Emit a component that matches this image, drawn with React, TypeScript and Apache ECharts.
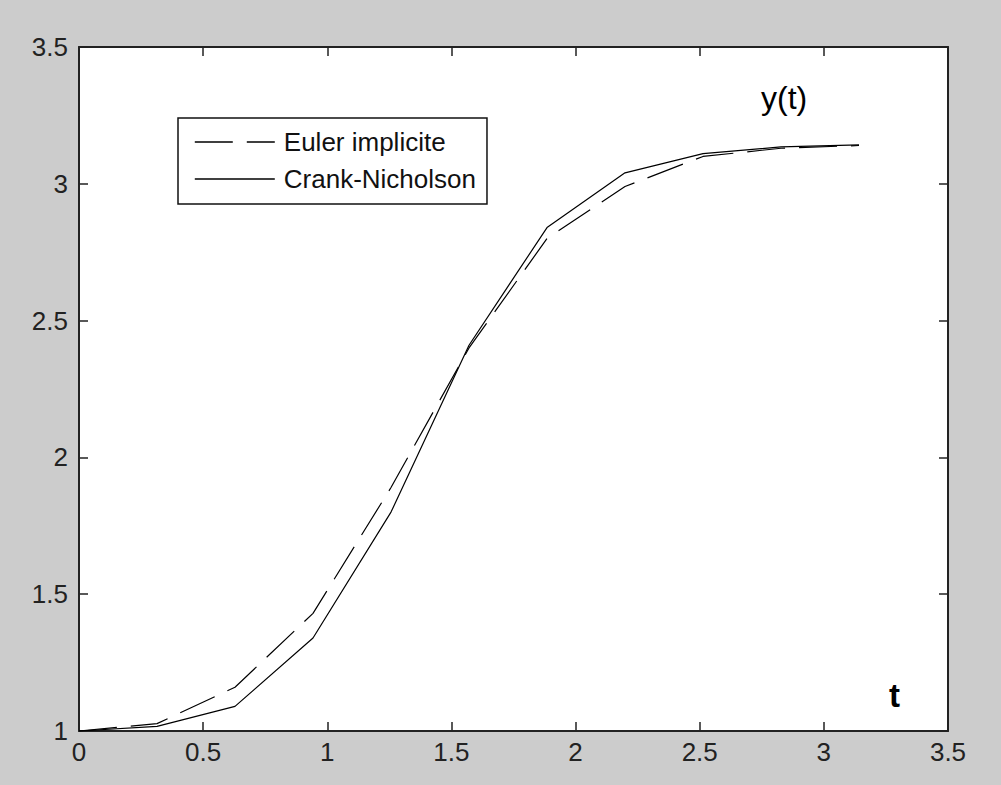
import React, { useEffect, useRef } from "react";
import * as echarts from "echarts";

const tValues = [0, 0.3142, 0.6283, 0.9425, 1.2566, 1.5708, 1.885, 2.1991, 2.5133, 2.8274, 3.1416];
const eulerImplicit = [1, 1.027, 1.16, 1.43, 1.89, 2.4, 2.8, 2.99, 3.1, 3.13, 3.14];
const crankNicholson = [1, 1.017, 1.09, 1.34, 1.8, 2.41, 2.84, 3.04, 3.11, 3.135, 3.142];
const xTickLabels = ["0", "0.5", "1", "1.5", "2", "2.5", "3", "3.5"];
const yTickLabels = ["1", "1.5", "2", "2.5", "3", "3.5"];
const seriesNames = ["Euler implicite", "Crank-Nicholson"];

const FONT = "Liberation Sans, Arial, sans-serif";
const AXIS_COLOR = "#222";

export default function App() {
  const ref = useRef<HTMLDivElement>(null);

  useEffect(() => {
    if (!ref.current) return;
    const chart = echarts.init(ref.current, undefined, { renderer: "svg" });

    const axisCommon = {
      axisLine: { show: true, onZero: false, lineStyle: { color: AXIS_COLOR, width: 2 } },
      axisTick: { show: true, inside: true, length: 9, lineStyle: { color: AXIS_COLOR, width: 1.5 } },
      splitLine: { show: false },
    };

    const xLabel = {
      show: true,
      color: AXIS_COLOR,
      fontFamily: FONT,
      fontSize: 26,
      margin: 8,
      showMinLabel: true,
      showMaxLabel: true,
      formatter: (v: number) => xTickLabels[Math.round(v / 0.5)] ?? "",
    };
    const yLabel = {
      show: true,
      color: AXIS_COLOR,
      fontFamily: FONT,
      fontSize: 26,
      margin: 11,
      showMinLabel: true,
      showMaxLabel: true,
      formatter: (v: number) => yTickLabels[Math.round((v - 1) / 0.5)] ?? "",
    };

    chart.setOption({
      animation: false,
      backgroundColor: "#cccccc",
      grid: {
        left: 79,
        right: 53,
        top: 47,
        bottom: 54,
        show: true,
        backgroundColor: "#ffffff",
        borderWidth: 0,
      },
      legend: {
        show: true,
        orient: "vertical",
        left: 178,
        top: 118,
        padding: [11, 11, 12, 16],
        itemGap: 11,
        itemWidth: 80,
        itemHeight: 14,
        backgroundColor: "#ffffff",
        borderColor: "#111",
        borderWidth: 1.5,
        borderRadius: 0,
        data: seriesNames,
        itemStyle: { opacity: 0, borderWidth: 0 },
        lineStyle: { opacity: 1, color: "#000", width: 1.6 },
        textStyle: {
          color: "#111",
          fontFamily: FONT,
          fontSize: 26,
          padding: [0, 0, 0, 4],
        },
      },
      xAxis: [
        {
          type: "value",
          min: 0,
          max: 3.5,
          interval: 0.5,
          position: "bottom",
          ...axisCommon,
          axisLabel: xLabel,
        },
        {
          type: "value",
          min: 0,
          max: 3.5,
          interval: 0.5,
          position: "top",
          ...axisCommon,
          axisLabel: { show: false },
        },
      ],
      yAxis: [
        {
          type: "value",
          min: 1,
          max: 3.5,
          interval: 0.5,
          position: "left",
          ...axisCommon,
          axisLabel: yLabel,
        },
        {
          type: "value",
          min: 1,
          max: 3.5,
          interval: 0.5,
          position: "right",
          ...axisCommon,
          axisLabel: { show: false },
        },
      ],
      series: [
        {
          name: seriesNames[0],
          type: "line",
          xAxisIndex: 0,
          yAxisIndex: 0,
          data: tValues.map((t, i) => [t, eulerImplicit[i]]),
          showSymbol: false,
          symbol: "none",
          color: "#000",
          lineStyle: { color: "#000", width: 1.2, type: [38, 14] },
          z: 3,
        },
        {
          name: seriesNames[1],
          type: "line",
          xAxisIndex: 0,
          yAxisIndex: 0,
          data: tValues.map((t, i) => [t, crankNicholson[i]]),
          showSymbol: false,
          symbol: "none",
          color: "#000",
          lineStyle: { color: "#000", width: 1.2, type: "solid" },
          z: 3,
        },
      ],
      graphic: [
        {
          type: "text",
          left: 761,
          top: 82,
          style: {
            text: "y(t)",
            fill: "#000",
            font: `32px ${FONT}`,
          },
          z: 10,
        },
        {
          type: "text",
          left: 889,
          top: 679,
          style: {
            text: "t",
            fill: "#000",
            font: `bold 33px ${FONT}`,
          },
          z: 10,
        },
      ],
    });

    return () => chart.dispose();
  }, []);

  return (
    <div
      ref={ref}
      style={{ position: "fixed", left: 0, top: 0, width: 1001, height: 785 }}
    />
  );
}
